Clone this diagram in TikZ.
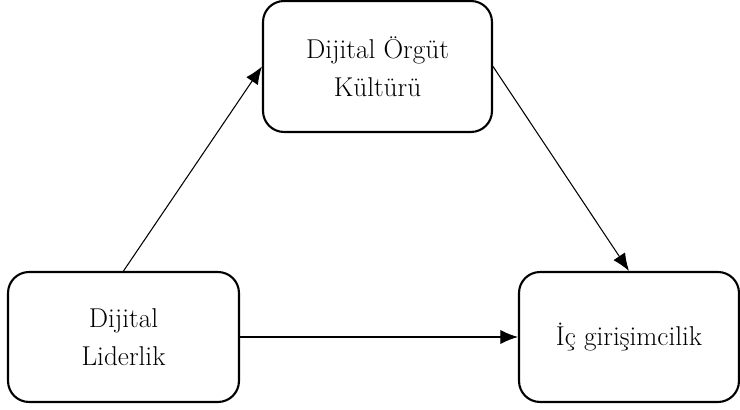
\documentclass[tikz,border=0pt]{standalone}
\usepackage{fontspec}
\usetikzlibrary{arrows.meta}

\tikzstyle{box}=[draw=black,line width=1.2pt,rounded corners=0.42cm,align=center,
  font=\fontsize{15.5}{21.5}\selectfont]
\tikzstyle{conn}=[draw=black,line width=0.6pt,-{Latex[length=10pt,width=8pt]}]

\begin{document}
\begin{tikzpicture}[x=0.02cm,y=0.02cm]

   \useasboundingbox (0,0) rectangle (740,409);

   \node[box,minimum width=4.58cm,minimum height=2.62cm] (kultur) at (377.5,342.5)
      {Dijital Örgüt\\Kültürü};
   \node[box,minimum width=4.62cm,minimum height=2.6cm] (lider) at (123.5,72)
      {Dijital\\Liderlik};
   \node[box,minimum width=4.4cm,minimum height=2.6cm] (girisim) at (629,72)
      {İç girişimcilik};

   \draw[conn] (lider.north) -- (kultur.west);
   \draw[conn] (kultur.east) -- (girisim.north);
   \draw[conn] (lider.east) -- (girisim.west);
\end{tikzpicture}
\end{document}
